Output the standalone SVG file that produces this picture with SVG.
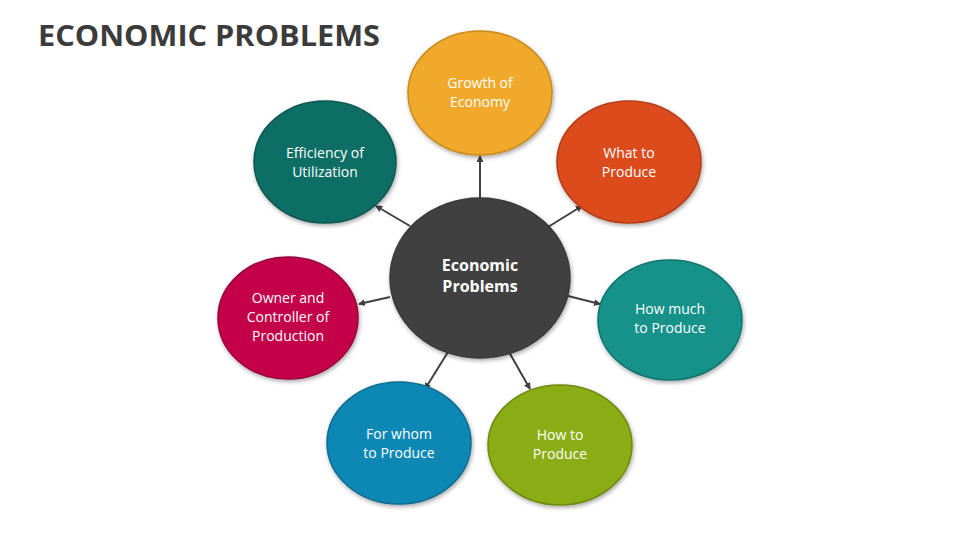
<svg xmlns="http://www.w3.org/2000/svg" width="960" height="540" viewBox="0 0 960 540">
<defs>
<filter id="sh" x="-20%" y="-20%" width="140%" height="140%"><feDropShadow dx="1" dy="2" stdDeviation="2" flood-color="#000" flood-opacity="0.35"/></filter>
<marker id="ar" markerWidth="8" markerHeight="8" refX="6" refY="4" orient="auto" markerUnits="userSpaceOnUse"><path d="M0,0.5 L7,4 L0,7.5 Z" fill="#404040"/></marker>
</defs>
<style>
.t{font-family:"Open Sans","Liberation Sans",sans-serif;font-size:14px;fill:#fff;text-anchor:middle}
.t.b{font-size:16px;font-weight:bold}
.c{stroke:#404040;stroke-width:2;fill:none;marker-end:url(#ar)}
ellipse{filter:url(#sh);stroke-width:1.5}
</style>
<rect width="960" height="540" fill="#fff"/>
<text x="38" y="46" font-family="Open Sans,Liberation Sans,sans-serif" font-weight="bold" font-size="29" fill="#3b3b3b" textLength="342" lengthAdjust="spacingAndGlyphs">ECONOMIC PROBLEMS</text>
<g id="connectors">
<line class="c" x1="480" y1="198" x2="480" y2="156"/>
<line class="c" x1="548" y1="227" x2="582" y2="206"/>
<line class="c" x1="410" y1="226" x2="376" y2="206"/>
<line class="c" x1="568" y1="296" x2="600" y2="304"/>
<line class="c" x1="390" y1="297" x2="359" y2="304"/>
<line class="c" x1="448" y1="352" x2="425" y2="389"/>
<line class="c" x1="509" y1="352" x2="530" y2="389"/>
</g>
<g id="center"><ellipse cx="480" cy="278" rx="90" ry="80" fill="#404040" stroke="#3a3a3a"/><text class="t b" x="480" y="271">Economic</text><text class="t b" x="480" y="292">Problems</text></g>
<g id="growth"><ellipse cx="480" cy="93" rx="72" ry="62" fill="#f0a92a" stroke="#c98a1c"/><text class="t" x="480" y="88">Growth of</text><text class="t" x="480" y="107">Economy</text></g>
<g id="what"><ellipse cx="629" cy="162" rx="72" ry="61" fill="#db4b1c" stroke="#b23c14"/><text class="t" x="629" y="158">What to</text><text class="t" x="629" y="177">Produce</text></g>
<g id="efficiency"><ellipse cx="325" cy="162" rx="71" ry="61" fill="#0f6e66" stroke="#0b5650"/><text class="t" x="325" y="158">Efficiency of</text><text class="t" x="325" y="177">Utilization</text></g>
<g id="howmuch"><ellipse cx="670" cy="320" rx="72" ry="60" fill="#13928a" stroke="#0e746d"/><text class="t" x="670" y="314">How much</text><text class="t" x="670" y="333">to Produce</text></g>
<g id="owner"><ellipse cx="288" cy="318" rx="70" ry="61" fill="#c4064a" stroke="#9a053a"/><text class="t" x="288" y="303">Owner and</text><text class="t" x="288" y="322">Controller of</text><text class="t" x="288" y="341">Production</text></g>
<g id="forwhom"><ellipse cx="399" cy="443" rx="72" ry="61" fill="#0d88b5" stroke="#0a6c90"/><text class="t" x="399" y="439">For whom</text><text class="t" x="399" y="458">to Produce</text></g>
<g id="howto"><ellipse cx="560" cy="445" rx="72" ry="60" fill="#8aad14" stroke="#6d8a0f"/><text class="t" x="560" y="440">How to</text><text class="t" x="560" y="459">Produce</text></g>
</svg>
